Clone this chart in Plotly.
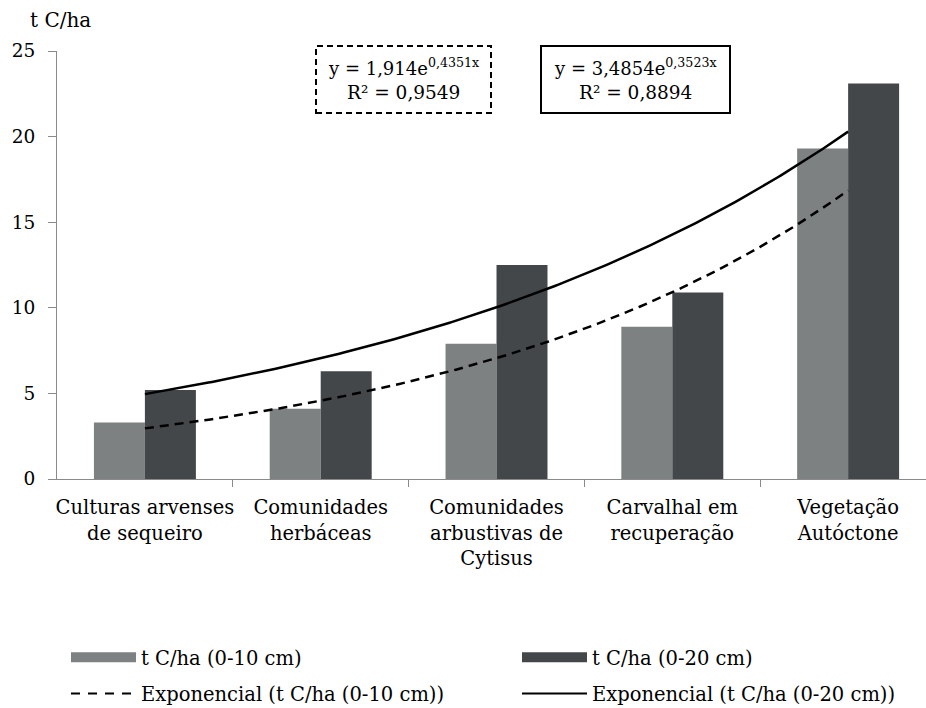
import numpy as np
import plotly.graph_objects as go

categories = ["Culturas arvenses<br>de sequeiro", "Comunidades<br>herbáceas",
              "Comunidades<br>arbustivas de<br>Cytisus", "Carvalhal em<br>recuperação",
              "Vegetação<br>Autóctone"]
values_10 = [3.3, 4.1, 7.9, 8.9, 19.3]
values_20 = [5.2, 6.3, 12.5, 10.9, 23.1]
# trend-line coefficients as printed on the chart: y = a * exp(b*x)
trend_10 = (1.914, 0.4351)
trend_20 = (3.4854, 0.3523)
r2_10, r2_20 = "0,9549", "0,8894"
y_ticks = [0, 5, 10, 15, 20, 25]

FONT = "DejaVu Serif"
C_LIGHT = "#7e8181"
C_DARK = "#43474a"

x_pos = np.arange(1, len(categories) + 1)
xs = np.linspace(1, len(categories), 200)

fig = go.Figure()
fig.add_bar(x=x_pos, y=values_10, marker_color=C_LIGHT, marker_line_width=0,
            name="t C/ha (0-10 cm)", showlegend=False)
fig.add_bar(x=x_pos, y=values_20, marker_color=C_DARK, marker_line_width=0,
            name="t C/ha (0-20 cm)", showlegend=False)
fig.add_scatter(x=xs, y=trend_10[0] * np.exp(trend_10[1] * xs), mode="lines",
                line=dict(color="black", width=2.5, dash="9px,6px"), showlegend=False)
fig.add_scatter(x=xs, y=trend_20[0] * np.exp(trend_20[1] * xs), mode="lines",
                line=dict(color="black", width=2.5), showlegend=False)

# legend-only entries (wide swatches like the original), split in two columns
fig.add_scatter(x=[None], y=[None], mode="lines", line=dict(color=C_LIGHT, width=13),
                name="t C/ha (0-10 cm)", legend="legend", legendgroup="a")
fig.add_scatter(x=[None], y=[None], mode="lines",
                line=dict(color="black", width=2, dash="9px,8px"),
                name="Exponencial (t C/ha (0-10 cm))", legend="legend", legendgroup="b")
fig.add_scatter(x=[None], y=[None], mode="lines", line=dict(color=C_DARK, width=13),
                name="t C/ha (0-20 cm)", legend="legend2", legendgroup="c")
fig.add_scatter(x=[None], y=[None], mode="lines", line=dict(color="black", width=2),
                name="Exponencial (t C/ha (0-20 cm))", legend="legend2", legendgroup="d")

W, H = 926, 708
ml, mr, mt, mb = 57, 0, 51, 229
pw, ph = W - ml - mr, H - mt - mb

def px(x):
    return (x - ml) / pw

def py(y):
    return (H - mb - y) / ph

def f(size):
    return dict(family=FONT, size=size, color="black")

leg_common = dict(orientation="v", yanchor="top", xanchor="left", itemwidth=65,
                  tracegroupgap=8, itemclick=False, bgcolor="rgba(0,0,0,0)", font=f(19.5))

fig.update_layout(
    template="none",
    width=W, height=H,
    margin=dict(l=ml, r=mr, t=mt, b=mb, autoexpand=False),
    plot_bgcolor="white", paper_bgcolor="white",
    font=f(19),
    barmode="group", bargap=0.42, bargroupgap=0,
    xaxis=dict(range=[0.5, 5.443], tickvals=list(x_pos), ticktext=categories,
               ticks="", showline=True, linecolor="#8a8a8a", linewidth=1,
               showgrid=False, zeroline=False, automargin=False, tickangle=0,
               minor=dict(tickvals=[1.5, 2.5, 3.5, 4.5], ticks="outside",
                          ticklen=7, tickcolor="#8a8a8a", showgrid=False),
               tickfont=f(19.5), ticklabelstandoff=11),
    yaxis=dict(range=[0, 25], tickvals=y_ticks, ticks="outside", ticklen=8,
               tickcolor="#8a8a8a", showline=True, linecolor="#8a8a8a", linewidth=1,
               showgrid=False, zeroline=False, automargin=False,
               tickfont=f(18.5), ticklabelstandoff=9),
    legend=dict(x=px(66), y=py(638), **leg_common),
    legend2=dict(x=px(517), y=py(638), **leg_common),
    showlegend=True,
)

fig.add_annotation(x=px(28), y=py(20), xref="paper", yref="paper", xanchor="left",
                   yanchor="middle", text="t C/ha", showarrow=False, font=f(20))

# equation boxes
box1 = (316, 491, 46, 113)
box2 = (541, 730, 46, 113)
fig.add_shape(type="rect", xref="paper", yref="paper", x0=px(box1[0]), x1=px(box1[1]),
              y0=py(box1[3]), y1=py(box1[2]), line=dict(color="black", width=2, dash="6px,4px"))
fig.add_shape(type="rect", xref="paper", yref="paper", x0=px(box2[0]), x1=px(box2[1]),
              y0=py(box2[3]), y1=py(box2[2]), line=dict(color="black", width=2))

def fmt(v):
    return str(v).replace(".", ",")

for box, (a, b), r2 in ((box1, trend_10, r2_10), (box2, trend_20, r2_20)):
    cx = px((box[0] + box[1]) / 2)
    fig.add_annotation(x=cx, y=py(box[2] + 21), xref="paper", yref="paper",
                       showarrow=False, yanchor="middle",
                       text=f"y = {fmt(a)}e<sup>{fmt(b)}x</sup>", font=f(18))
    fig.add_annotation(x=cx, y=py(box[2] + 46), xref="paper", yref="paper",
                       showarrow=False, yanchor="middle",
                       text=f"R² = {r2}", font=f(18.5))

fig.write_html("out.html", config={"displayModeBar": False},
               post_script="document.body.style.margin='0';")
